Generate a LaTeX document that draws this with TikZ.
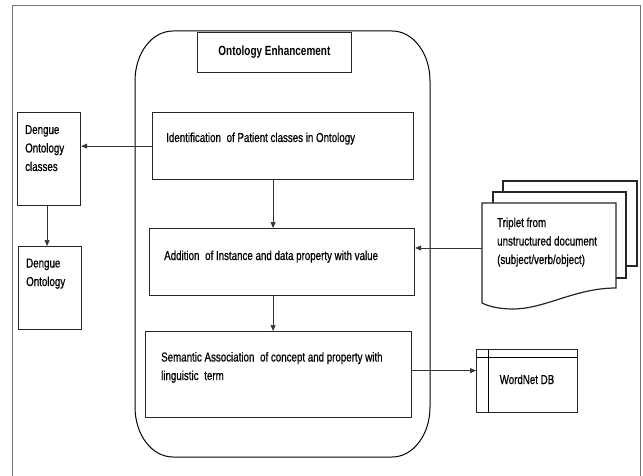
\documentclass[tikz,border=0pt]{standalone}
\usepackage{fontspec}
\setmainfont{Liberation Sans}[FakeStretch=0.75, UprightFeatures={FakeBold=0.6}]
\usetikzlibrary{positioning,arrows.meta}
\tikzset{>={Triangle[length=6pt,width=5pt]}}
\tikzset{
  stepbox/.style={rectangle, draw=black!85, line width=1.2pt, fill=white, anchor=north west, inner sep=0pt},
  boxtext/.style={anchor=base west, font=\fontsize{13}{18.5}\selectfont, align=left, inner sep=0pt},
  flow/.style={->, draw=black!80, line width=0.6pt},
  frame/.style={draw=black!55, line width=0.8pt},
  group/.style={draw=black, line width=1pt},
  docline/.style={draw=black!85, line width=1.2pt, fill=white}
}

\begin{document}
\begin{tikzpicture}[x=1pt,y=-1pt]
\useasboundingbox (0,0) rectangle (643,476);
\draw[frame] (12,476) -- (12,5) -- (640,5) -- (640,476);

% ontology enhancement group
\draw[group] (173,31) -- (392,31) .. controls (413,31) and (430,53) .. (430,81) -- (430,407)
  .. controls (430,435) and (413,457) .. (392,457) -- (173,457)
  .. controls (152,457) and (135,435) .. (135,407) -- (135,81)
  .. controls (135,53) and (152,31) .. (173,31) -- cycle;
\node[stepbox, line width=0.8pt, minimum width=154pt, minimum height=40pt,
      font=\fontsize{13.3}{15}\selectfont\bfseries] (title) at (197,32) {Ontology Enhancement};

% steps
\node[stepbox, minimum width=261pt, minimum height=67pt] (box1) at (152,112) {};
\node[stepbox, minimum width=265pt, minimum height=67pt] (box2) at (149,228) {};
\node[stepbox, minimum width=266pt, minimum height=86pt] (box3) at (145,331) {};
\node[boxtext] (t1) at ([xshift=14pt,yshift=-30pt]box1.north west) {Identification\hspace{3pt} of Patient classes in Ontology};
\node[boxtext] (t2) at ([xshift=15pt,yshift=-32pt]box2.north west) {Addition\hspace{3pt} of Instance and data property with value};
\node[boxtext] (t3) at ([xshift=16pt,yshift=-49pt]box3.north west) {Semantic Association\hspace{3pt} of concept and property with\\linguistic\hspace{3pt} term};

% ontology side
\node[stepbox, minimum width=63pt, minimum height=93pt] (cls) at (17,112) {};
\node[stepbox, minimum width=63pt, minimum height=83pt] (ont) at (18,246) {};
\node[boxtext] (tcls) at ([xshift=8pt,yshift=-59pt]cls.north west) {Dengue\\Ontology\\classes};
\node[boxtext] (tont) at ([xshift=8pt,yshift=-40pt]ont.north west) {Dengue\\Ontology};

% triplet documents
\draw[docline] (503,181) rectangle (637,266);
\draw[docline] (493,192) rectangle (626,278);
\draw[docline] (482,203) -- (616,203) -- (616,288)
  .. controls (575,288) and (545,309) .. (513,309)
  .. controls (498,309) and (488,306) .. (482,303) -- cycle;
\coordinate (doc) at (482,248);
\node[boxtext] (tdoc) at (497,264) {Triplet from\\unstructured document\\(subject/verb/object)};

% wordnet store
\node[stepbox, minimum width=101pt, minimum height=63pt] (db) at (476,349) {};
\draw[line width=1pt] ([yshift=-8pt]db.north west) -- ([yshift=-8pt]db.north east);
\draw[line width=1pt] ([xshift=12pt]db.north west) -- ([xshift=12pt]db.south west);
\node[boxtext, anchor=base] (tdb) at (527,384) {WordNet DB};

% connectors
\draw[flow] (box1.west) -- (cls.east |- box1.west);
\draw[flow] ([xshift=-2pt]cls.south) -- ([xshift=-2pt]cls.south |- ont.north);
\draw[flow] ([xshift=-10pt]box1.south) -- ([xshift=-10pt]box1.south |- box2.north);
\draw[flow] ([xshift=-10pt]box1.south |- box2.south) -- ([xshift=-10pt]box1.south |- box3.north);
\draw[flow] (doc) -- (box2.east |- doc);
\draw[flow] ([yshift=4pt]box3.east) -- ([yshift=4pt]box3.east -| db.west);

\end{tikzpicture}
\end{document}
